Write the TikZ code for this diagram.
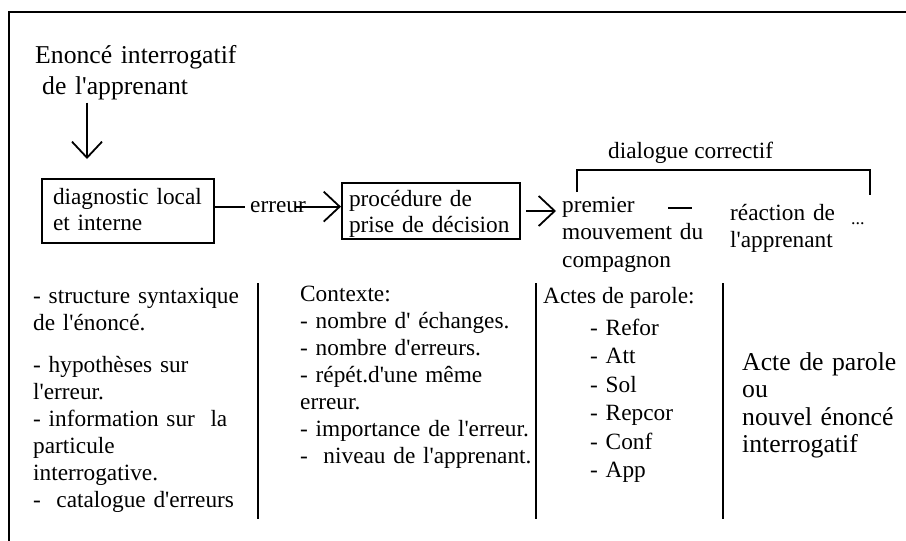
\documentclass[tikz,border=0pt]{standalone}
\usepackage{fontspec}
\newfontfamily\tnr{Liberation Serif}
\usetikzlibrary{arrows.meta,calc}
\begin{document}
\begin{tikzpicture}[x=1pt,y=-1pt,
  every node/.style={inner sep=0pt, anchor=base west},
  txt/.style={font=\tnr\fontsize{23.3}{27}\selectfont},
  body/.style={font=\tnr\fontsize{23.3}{27}\selectfont, align=left, text width=#1},
  body/.default=250pt,
  big/.style={font=\tnr\fontsize{25.7}{31}\selectfont, align=left, text width=#1},
  big/.default=260pt,
  boxnode/.style={draw, line width=2pt, anchor=north west, align=left,
    font=\tnr\fontsize{23.3}{26.5}\selectfont},
  arr/.style={line width=1.8pt, -{Straight Barb[length=16pt,width=30pt]}},
  rule/.style={line width=2.4pt},
  frame/.style={line width=2pt},
]
\useasboundingbox (0,0) rectangle (906,541);

% frame
\draw[frame] (9,541) -- (9,12) -- (906,12);

% title
\node[big] (title) at (35,63) {Enoncé interrogatif\\\hspace*{7pt}de l'apprenant};
\coordinate (dtop) at (87,102);

% boxes
\node[boxnode, minimum width=172pt, minimum height=64pt, text width=150pt, text depth=30pt]
  (b1) at (41,178) {diagnostic local\\et interne};
\node[boxnode, minimum width=178pt, minimum height=56pt, text width=164pt, text depth=26pt]
  (b2) at (341,182) {procédure de\\prise de décision};

\draw[arr] ($(title.south -| dtop)+(0,-3pt)$) -- ($(b1.north -| dtop)+(0,19pt)$);

% erreur
\node[txt] (err) at (250,212) {erreur};
\draw[line width=1.8pt] (b1.east |- err.west) -- ($(err.west)+(-5pt,0)$);
\draw[arr] ($(err.east)+(-10pt,0)$) -- (b2.west |- err.west);

% dialogue correctif
\node[body, font=\tnr\fontsize{23.3}{27.5}\selectfont] (prem) at (562,212)
  {premier\\mouvement du\\compagnon};
\draw[arr] ($(b2.east)+(5pt,0)$) -- ($(prem.west |- b2.east)+(-6pt,0)$);

\coordinate (dL) at (668,208);
\coordinate (dR) at (692,208);
\draw[rule] (dL) -- (dR);

\node[body] (react) at (730,220) {réaction de\\l'apprenant};
\node[font=\tnr\fontsize{18}{18}\selectfont] (dots) at (851,224) {...};

\coordinate (brL) at (577,192);
\coordinate (brTL) at (577,170);
\coordinate (brTR) at (870,170);
\coordinate (brR) at (870,195);
\draw[frame] (brL) -- (brTL) -- (brTR) -- (brR);
\node[txt] (dc) at (608,158) {dialogue correctif};

% lower columns
\draw[rule] (258,283) -- (258,519);
\draw[rule] (536,283) -- (536,519);
\draw[rule] (723,283) -- (723,519);

\node[body] (c1) at (33,303) {- structure syntaxique\\de l'énoncé.\\[15pt]- hypothèses sur\\l'erreur.\\- information sur~ la\\particule\\interrogative.\\-~ catalogue d'erreurs};

\node[body] (c2) at (300,301) {Contexte:\\- nombre d' échanges.\\- nombre d'erreurs.\\- répét.d'une même\\erreur.\\- importance de l'erreur.\\-~ niveau de l'apprenant.};

\node[txt] (ah) at (543,303) {Actes de parole:};
\node[body=120pt, font=\tnr\fontsize{23.3}{28.5}\selectfont] (al) at (590,335)
  {- Refor\\- Att\\- Sol\\- Repcor\\- Conf\\- App};

\node[big=160pt, font=\tnr\fontsize{25.7}{27.5}\selectfont] (ar) at (742,370)
  {Acte de parole\\ou\\nouvel énoncé\\interrogatif};
\end{tikzpicture}
\end{document}
